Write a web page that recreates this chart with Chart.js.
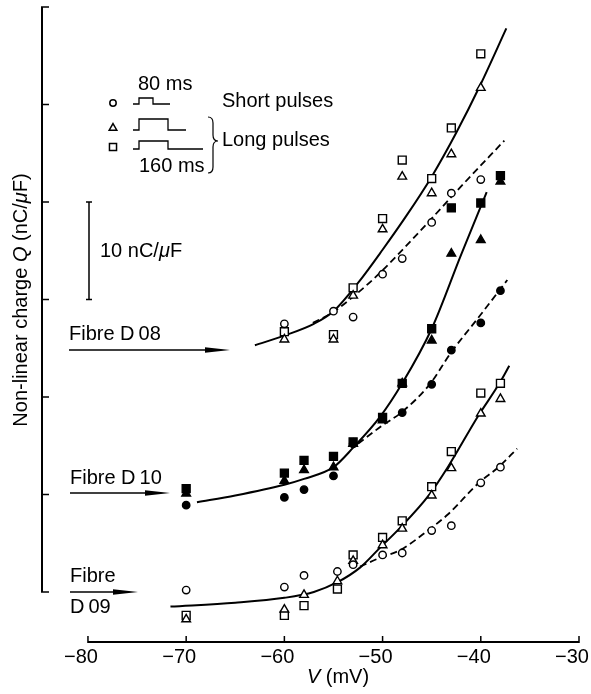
<!DOCTYPE html>
<html>
<head>
<meta charset="utf-8">
<script src="https://cdn.jsdelivr.net/npm/chart.js@4.4.1/dist/chart.umd.min.js"></script>
<style>
body { margin: 0; background: #fff; }
canvas { display: block; }
</style>
</head>
<body>
<canvas id="myChart" width="591" height="694"></canvas>
<script>
// tick values
const xTicks = [-80, -70, -60, -50, -40, -30];
const yTicks = [0, 10, 20, 30, 40, 50, 60];

// Fibre D08 (open symbols)
const volts08 = [-60, -55, -53, -50, -48, -45, -43, -40];
const d08Circle = [27.5, 28.8, 28.2, 32.6, 34.2, 37.9, 40.9, 42.3];
const d08Triangle = [25.9, 25.9, 30.4, 37.2, 42.6, 40.9, 44.9, 51.7];
const d08Square = [26.7, 26.4, 31.2, 38.3, 44.3, 42.4, 47.6, 55.2];

// Fibre D10 (filled symbols)
const volts10 = [-70, -60, -58, -55, -53, -50, -48, -45, -43, -40, -38];
const d10Circle = [8.9, 9.7, 10.5, 11.9, 15.2, 17.9, 18.4, 21.3, 24.8, 27.6, 30.9];
const d10Triangle = [10.1, 11.4, 12.5, 12.8, 15.2, 17.6, 21.4, 25.8, 34.7, 36.1, 42.1];
const d10Square = [10.6, 12.2, 13.5, 13.9, 15.4, 17.9, 21.4, 27.0, 39.4, 39.9, 42.7];

// Fibre D09 (open symbols)
const volts09 = [-70, -60, -58, -54.6, -53, -50, -48, -45, -43, -40, -38];
const d09Circle = [0.2, 0.5, 1.7, 2.1, 2.8, 3.8, 4.0, 6.3, 6.8, 11.2, 12.8];
const d09Triangle = [-2.8, -1.8, -0.3, 1.1, 3.2, 4.8, 6.5, 9.9, 12.7, 18.3, 19.8];
const d09Square = [-2.4, -2.4, -1.4, 0.3, 3.8, 5.6, 7.3, 10.8, 14.4, 20.4, 21.4];

// fitted curves
const fit08LongV = [-63, -60, -57, -55, -52.5, -50, -47.5, -45, -42.5, -40, -37.4];
const fit08LongQ = [25.3, 26.3, 27.5, 28.8, 31.7, 35.1, 38.7, 42.6, 47.1, 52.1, 57.8];
const fit08ShortV = [-57.1, -55.2, -53.1, -50.3, -46.2, -42.1, -37.6];
const fit08ShortQ = [27.6, 28.6, 30.2, 32.7, 37.0, 41.5, 46.3];

const fit10LongV = [-68.9, -65, -60, -58, -55, -53, -50.3, -48, -45, -42, -39.4];
const fit10LongQ = [9.2, 9.9, 11.0, 11.6, 12.8, 14.8, 17.9, 21.4, 27.0, 34.6, 41.0];
const fit10ShortV = [-52.5, -50, -48.1, -45.2, -43, -40.2, -37.3];
const fit10ShortQ = [15.2, 17.1, 18.4, 21.3, 24.6, 28.2, 32.0];

const fit09LongV = [-71.6, -65, -60, -57, -54.6, -52.3, -50.3, -48.2, -45.3, -43.3, -40.3, -38.1, -37.1];
const fit09LongQ = [-1.5, -1.1, -0.6, 0.0, 1.0, 2.5, 4.5, 6.6, 9.9, 12.9, 18.0, 21.4, 23.2];
const fit09ShortV = [-52.3, -50.3, -48.2, -45.4, -43.3, -40.2, -38.2, -36.3];
const fit09ShortQ = [2.6, 3.5, 4.3, 6.3, 8.0, 11.2, 12.8, 14.7];

const FAM = '"Liberation Sans", Arial, Helvetica, sans-serif';
const FONT = '20px ' + FAM;
const ITAL = 'italic 20px ' + FAM;

function pts(xs, ys) {
    return xs.map((v, i) => ({ x: v, y: ys[i] }));
}

const RAD = { circle: 3.7, triangle: 5, rect: 5.6 };

function markers(xs, ys, style, filled) {
    return {
        data: pts(xs, ys),
        pointStyle: style,
        pointRadius: RAD[style],
        backgroundColor: filled ? '#000' : '#fff',
        borderColor: '#000',
        pointBorderWidth: 1.4,
        showLine: false,
        order: 1
    };
}

function curve(xs, ys, dashed) {
    return {
        data: pts(xs, ys),
        showLine: true,
        pointRadius: 0,
        borderColor: '#000',
        borderWidth: dashed ? 1.8 : 2,
        borderDash: dashed ? [7, 4] : [],
        cubicInterpolationMode: 'monotone',
        fill: false,
        order: 2
    };
}

function arrow(ctx, x0, x1, y) {
    ctx.beginPath();
    ctx.moveTo(x0, y);
    ctx.lineTo(x1 - 18, y);
    ctx.lineWidth = 1.6;
    ctx.stroke();
    ctx.beginPath();
    ctx.moveTo(x1, y);
    ctx.lineTo(x1 - 25, y - 2.8);
    ctx.lineTo(x1 - 25, y + 2.8);
    ctx.closePath();
    ctx.fill();
}

function pulse(ctx, y0, y1, xFall, xEnd) {
    ctx.beginPath();
    ctx.moveTo(133, y0);
    ctx.lineTo(139, y0);
    ctx.lineTo(139, y1);
    ctx.lineTo(xFall, y1);
    ctx.lineTo(xFall, y0);
    ctx.lineTo(xEnd, y0);
    ctx.stroke();
}

// axes drawn by hand: the y axis stops at 0, the x axis starts at -80
const axesPlugin = {
    id: 'axesLines',
    beforeDatasetsDraw(chart) {
        const { ctx, chartArea, scales: { x, y } } = chart;
        const x0 = chartArea.left;
        const yb = chartArea.bottom;
        ctx.save();
        ctx.strokeStyle = '#000';
        ctx.lineWidth = 2;
        ctx.beginPath();
        ctx.moveTo(x0, y.getPixelForValue(60));
        ctx.lineTo(x0, y.getPixelForValue(0));
        ctx.moveTo(x.getPixelForValue(-80), yb);
        ctx.lineTo(x.getPixelForValue(-30), yb);
        ctx.stroke();
        ctx.lineWidth = 1.5;
        ctx.beginPath();
        yTicks.forEach(v => {
            const py = y.getPixelForValue(v);
            ctx.moveTo(x0 - 1, py);
            ctx.lineTo(x0 + 7, py);
        });
        xTicks.forEach(v => {
            const px = x.getPixelForValue(v);
            ctx.moveTo(px, yb + 1);
            ctx.lineTo(px, yb - 6);
        });
        ctx.stroke();
        ctx.restore();
    }
};

const notesPlugin = {
    id: 'notes',
    afterDraw(chart) {
        const { ctx, scales: { y } } = chart;
        ctx.save();
        ctx.fillStyle = '#000';
        ctx.strokeStyle = '#000';
        ctx.textAlign = 'left';
        ctx.textBaseline = 'alphabetic';

        // y title, rotated
        ctx.save();
        ctx.translate(21, 300);
        ctx.rotate(-Math.PI / 2);
        ctx.textBaseline = 'middle';
        const parts = [['Non-linear charge ', FONT], ['Q', ITAL], [' (nC/', FONT], ['\u03bc', ITAL], ['F)', FONT]];
        let total = 0;
        parts.forEach(p => { ctx.font = p[1]; total += ctx.measureText(p[0]).width; });
        let cx = -total / 2;
        parts.forEach(p => { ctx.font = p[1]; ctx.fillText(p[0], cx, 0); cx += ctx.measureText(p[0]).width; });
        ctx.restore();

        // x title
        const xparts = [['V', ITAL], [' (mV)', FONT]];
        let xw = 0;
        xparts.forEach(p => { ctx.font = p[1]; xw += ctx.measureText(p[0]).width; });
        let xx = 338 - xw / 2;
        xparts.forEach(p => { ctx.font = p[1]; ctx.fillText(p[0], xx, 683); xx += ctx.measureText(p[0]).width; });

        // scale bar, 10 units on the y scale
        const b0 = y.getPixelForValue(40), b1 = y.getPixelForValue(30);
        ctx.lineWidth = 1.5;
        ctx.beginPath();
        ctx.moveTo(89, b0); ctx.lineTo(89, b1);
        ctx.moveTo(86, b0); ctx.lineTo(92, b0);
        ctx.moveTo(86, b1); ctx.lineTo(92, b1);
        ctx.stroke();
        ctx.font = FONT;
        ctx.fillText('10 nC/', 100, 257);
        let w = ctx.measureText('10 nC/').width;
        ctx.font = ITAL;
        ctx.fillText('\u03bc', 100 + w, 257);
        w += ctx.measureText('\u03bc').width;
        ctx.font = FONT;
        ctx.fillText('F', 100 + w, 257);

        // pulse legend
        ctx.fillStyle = '#fff';
        Chart.helpers.drawPoint(ctx, { pointStyle: 'circle', radius: 3.2, borderWidth: 1.4 }, 113, 103);
        Chart.helpers.drawPoint(ctx, { pointStyle: 'triangle', radius: 4.4, borderWidth: 1.4 }, 113, 128);
        Chart.helpers.drawPoint(ctx, { pointStyle: 'rect', radius: 5, borderWidth: 1.4 }, 113, 147);
        ctx.fillStyle = '#000';
        ctx.lineWidth = 1.3;
        pulse(ctx, 104, 98, 153, 170);
        pulse(ctx, 130, 119, 168, 186);
        pulse(ctx, 149, 141, 168, 203);
        ctx.font = FONT;
        ctx.fillText('80 ms', 138, 90);
        ctx.fillText('160 ms', 139, 172);
        ctx.fillText('Short pulses', 222, 107);
        ctx.fillText('Long pulses', 222, 146);
        ctx.lineWidth = 1.2;
        ctx.beginPath();
        ctx.moveTo(208, 117);
        ctx.quadraticCurveTo(213, 117, 213, 123);
        ctx.lineTo(213, 135);
        ctx.quadraticCurveTo(213, 141, 218, 141);
        ctx.quadraticCurveTo(213, 141, 213, 147);
        ctx.lineTo(213, 167);
        ctx.quadraticCurveTo(213, 173, 208, 173);
        ctx.stroke();

        // fibre labels with arrows
        ctx.font = FONT;
        ctx.fillText('Fibre D\u200908', 69, 340);
        arrow(ctx, 69, 230, 350);
        ctx.fillText('Fibre D\u200910', 70, 484);
        arrow(ctx, 70, 170, 493);
        ctx.fillText('Fibre', 70, 582);
        arrow(ctx, 70, 138, 592);
        ctx.fillText('D\u200909', 70, 613);
        ctx.restore();
    }
};

const data = {
    datasets: [
        curve(fit08LongV, fit08LongQ, false),
        curve(fit08ShortV, fit08ShortQ, true),
        curve(fit10LongV, fit10LongQ, false),
        curve(fit10ShortV, fit10ShortQ, true),
        curve(fit09LongV, fit09LongQ, false),
        curve(fit09ShortV, fit09ShortQ, true),
        markers(volts08, d08Circle, 'circle', false),
        markers(volts08, d08Triangle, 'triangle', false),
        markers(volts08, d08Square, 'rect', false),
        markers(volts10, d10Circle, 'circle', true),
        markers(volts10, d10Triangle, 'triangle', true),
        markers(volts10, d10Square, 'rect', true),
        markers(volts09, d09Circle, 'circle', false),
        markers(volts09, d09Triangle, 'triangle', false),
        markers(volts09, d09Square, 'rect', false)
    ]
};

const config = {
    type: 'scatter',
    data,
    options: {
        responsive: false,
        animation: false,
        devicePixelRatio: 1,
        layout: { padding: { left: 42, right: 12, top: 7, bottom: 22 } },
        plugins: {
            legend: { display: false },
            tooltip: { enabled: false }
        },
        scales: {
            x: {
                type: 'linear',
                min: -84.68,
                max: -30,
                afterBuildTicks: s => { s.ticks = xTicks.map(v => ({ value: v })); },
                afterFit: s => { s.paddingLeft = 0; s.paddingRight = 0; },
                grid: { display: false, drawTicks: false },
                border: { display: false },
                ticks: {
                    color: '#000',
                    padding: 5,
                    labelOffset: -7,
                    maxRotation: 0,
                    autoSkip: false,
                    font: { family: FAM, size: 20, lineHeight: 1 },
                    callback: v => (v < 0 ? '\u2212' + Math.abs(v) : String(v))
                }
            },
            y: {
                type: 'linear',
                display: false,
                min: -5.13,
                max: 60
            }
        }
    },
    plugins: [axesPlugin, notesPlugin]
};

const myChart = new Chart(document.getElementById('myChart'), config);
</script>
</body>
</html>
